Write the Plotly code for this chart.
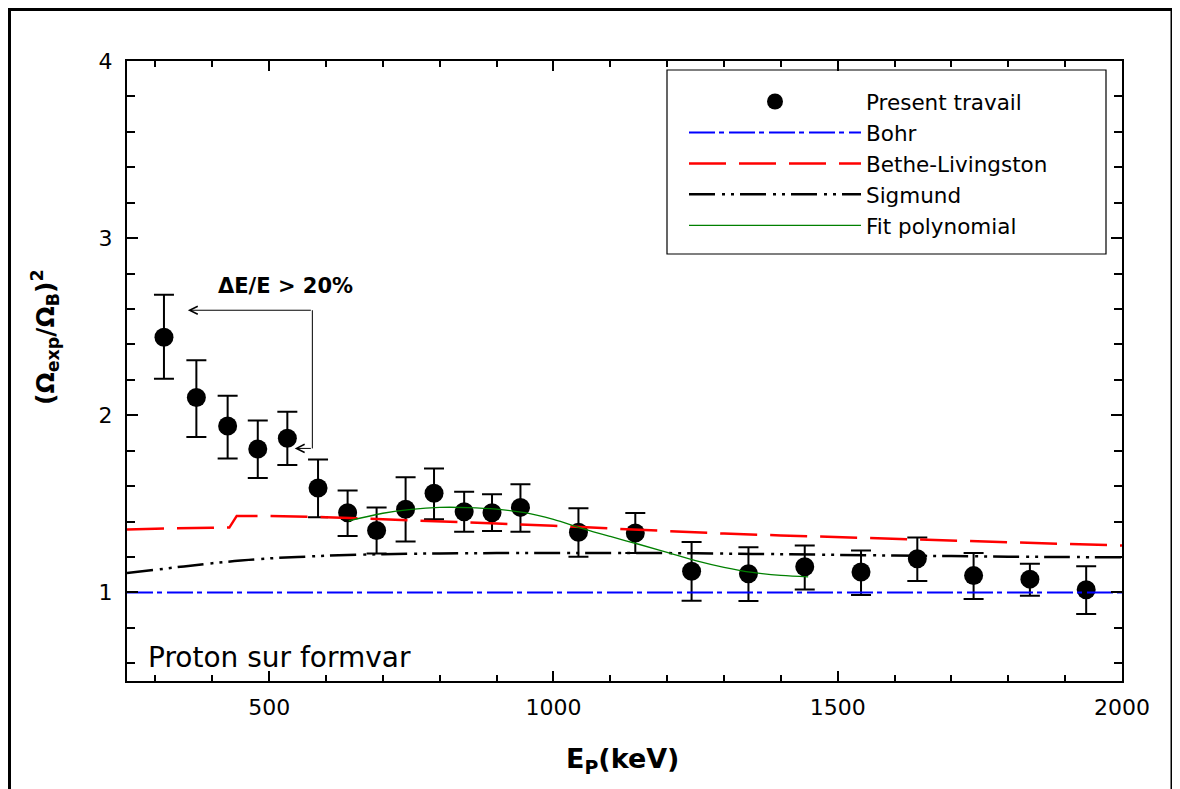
import plotly.graph_objects as go

# ---------------- data ----------------
energy = [315, 372, 427, 480, 532, 586, 638, 689, 740, 790, 843, 892, 942,
          1044, 1144, 1243, 1343, 1442, 1541, 1640, 1739, 1838, 1937]
ratio = [2.44, 2.10, 1.94, 1.81, 1.87, 1.59, 1.45, 1.35, 1.47, 1.56, 1.455, 1.45, 1.48,
         1.34, 1.335, 1.12, 1.105, 1.145, 1.115, 1.19, 1.095, 1.075, 1.015]
err_up = [0.24, 0.21, 0.17, 0.16, 0.15, 0.16, 0.125, 0.13, 0.18, 0.14, 0.113, 0.104, 0.13,
          0.135, 0.113, 0.165, 0.15, 0.12, 0.122, 0.12, 0.128, 0.087, 0.133]
err_down = [0.234, 0.222, 0.184, 0.164, 0.151, 0.166, 0.132, 0.13, 0.182, 0.147, 0.113, 0.103, 0.138,
            0.138, 0.113, 0.167, 0.154, 0.128, 0.13, 0.125, 0.132, 0.094, 0.137]

bohr_e = [250, 2000]
bohr_v = [1.0, 1.0]

bl_e = [250, 300, 400, 430, 443, 500, 600, 700, 800, 900, 1000, 1100, 1200,
        1300, 1400, 1500, 1600, 1700, 1800, 1900, 2000]
bl_v = [1.355, 1.36, 1.365, 1.366, 1.432, 1.432, 1.425, 1.414, 1.402, 1.389, 1.376, 1.361, 1.345,
        1.332, 1.322, 1.312, 1.300, 1.290, 1.282, 1.274, 1.265]

sig_e = [250, 300, 350, 400, 450, 500, 550, 600, 700, 800, 900, 1000, 1100, 1200,
         1300, 1400, 1500, 1600, 1700, 1800, 1900, 2000]
sig_v = [1.110, 1.128, 1.147, 1.165, 1.180, 1.192, 1.200, 1.207, 1.216, 1.220, 1.222, 1.223, 1.223, 1.222,
         1.219, 1.216, 1.212, 1.208, 1.205, 1.202, 1.200, 1.198]

fit_e = [640, 700, 750, 800, 850, 900, 950, 1000, 1050, 1100, 1150, 1200, 1250, 1300, 1350, 1400, 1448]
fit_v = [1.404, 1.447, 1.469, 1.480, 1.479, 1.470, 1.450, 1.412, 1.362, 1.316, 1.272, 1.226, 1.180,
         1.142, 1.113, 1.096, 1.088]

x_range = [250, 2000]
y_range = [0.5, 4]

FONT = "DejaVu Sans"

fig = go.Figure()

fig.add_trace(go.Scatter(
    x=energy, y=ratio, mode="markers", name="Present travail",
    marker=dict(color="black", size=19, symbol="circle"),
    error_y=dict(type="data", symmetric=False, array=err_up, arrayminus=err_down,
                 color="black", thickness=2, width=10),
))
fig.add_trace(go.Scatter(
    x=bohr_e, y=bohr_v, mode="lines", name="Bohr",
    line=dict(color="#0000ff", width=2, dash="26px,4px,5px,5px"),
))
fig.add_trace(go.Scatter(
    x=bl_e, y=bl_v, mode="lines", name="Bethe-Livingston",
    line=dict(color="#ff0000", width=2.5, dash="37px,13px"),
))
fig.add_trace(go.Scatter(
    x=sig_e, y=sig_v, mode="lines", name="Sigmund", line_shape="spline",
    line=dict(color="black", width=2.5, dash="26px,7px,3px,6px,3px,6px"),
))
fig.add_trace(go.Scatter(
    x=fit_e, y=fit_v, mode="lines", name="Fit polynomial", line_shape="spline",
    line=dict(color="#008000", width=1.3),
))

# page has an 8px body margin: figure coords = screen coords - 8
OFF = 8
W, H = 1172, 781
L, T = 119, 53
pw, ph = 995, 620
R, B = W - L - pw, H - T - ph


def px(xs):
    return (xs - OFF - L) / pw


def py(ys):
    return (T + ph - (ys - OFF)) / ph


axis_common = dict(
    showline=True, linecolor="black", linewidth=2, mirror="ticks",
    ticks="inside", tickcolor="black", tickwidth=1.5,
    showgrid=False, zeroline=False,
    tickfont=dict(family=FONT, size=22, color="black"),
)

fig.update_xaxes(range=x_range, tick0=0, dtick=500, ticklen=10,
                 ticklabelstandoff=6,
                 minor=dict(dtick=100, ticks="inside", ticklen=6, tickwidth=1.5, tickcolor="black"),
                 **axis_common)
fig.update_yaxes(range=y_range, tick0=0, dtick=1, ticklen=11,
                 ticklabelstandoff=8,
                 minor=dict(dtick=0.2, ticks="inside", ticklen=8, tickwidth=1.5, tickcolor="black"),
                 **axis_common)

annotations = [
    dict(text="<b>E<sub>P</sub>(keV)</b>", x=px(622), y=py(760), xref="paper", yref="paper",
         showarrow=False, xanchor="center", yanchor="middle",
         font=dict(family=FONT, size=27, color="black")),
    dict(text="<b>(Ω<sub>exp</sub>/Ω<sub>B</sub>)<sup>2</sup></b>", x=px(45), y=py(337),
         xref="paper", yref="paper", textangle=-90, showarrow=False,
         xanchor="center", yanchor="middle",
         font=dict(family=FONT, size=25, color="black")),
    dict(text="Proton sur formvar", x=px(146), y=py(657), xref="paper", yref="paper",
         showarrow=False, xanchor="left", yanchor="middle",
         font=dict(family=FONT, size=28, color="black")),
    dict(text="<b>ΔE/E > 20%</b>", x=529, y=2.73, xref="x", yref="y",
         showarrow=False, xanchor="center", yanchor="middle",
         font=dict(family=FONT, size=21, color="black")),
    dict(x=357, y=2.593, ax=576, ay=2.593, xref="x", yref="y", axref="x", ayref="y",
         text="", showarrow=True, arrowhead=5, arrowsize=1.6, arrowwidth=1, arrowcolor="black"),
    dict(x=545, y=1.813, ax=576, ay=1.813, xref="x", yref="y", axref="x", ayref="y",
         text="", showarrow=True, arrowhead=5, arrowsize=1.6, arrowwidth=1, arrowcolor="black"),
]

shapes = [
    dict(type="line", xref="x", yref="y", x0=576, x1=576, y0=2.593, y1=1.813,
         line=dict(color="black", width=1)),
    # legend box
    dict(type="rect", xref="paper", yref="paper", x0=px(667), x1=px(1106), y0=py(254), y1=py(70),
         line=dict(color="black", width=1.2), fillcolor="rgba(0,0,0,0)"),
    # outer frame
    dict(type="rect", xref="paper", yref="paper", x0=px(9.5), x1=px(1172), y0=py(800), y1=py(9.5),
         line=dict(color="black", width=3), fillcolor="rgba(0,0,0,0)"),
]

fig.update_layout(
    width=W, height=H,
    margin=dict(l=L, r=R, t=T, b=B),
    paper_bgcolor="white", plot_bgcolor="white",
    font=dict(family=FONT, color="black"),
    showlegend=True,
    legend=dict(x=px(684), y=py(81), xanchor="left", yanchor="top",
                bgcolor="rgba(0,0,0,0)", borderwidth=0,
                itemwidth=172, tracegroupgap=0,
                font=dict(family=FONT, size=21.5, color="black")),
    annotations=annotations,
    shapes=shapes,
)

fig.write_html("out.html")
